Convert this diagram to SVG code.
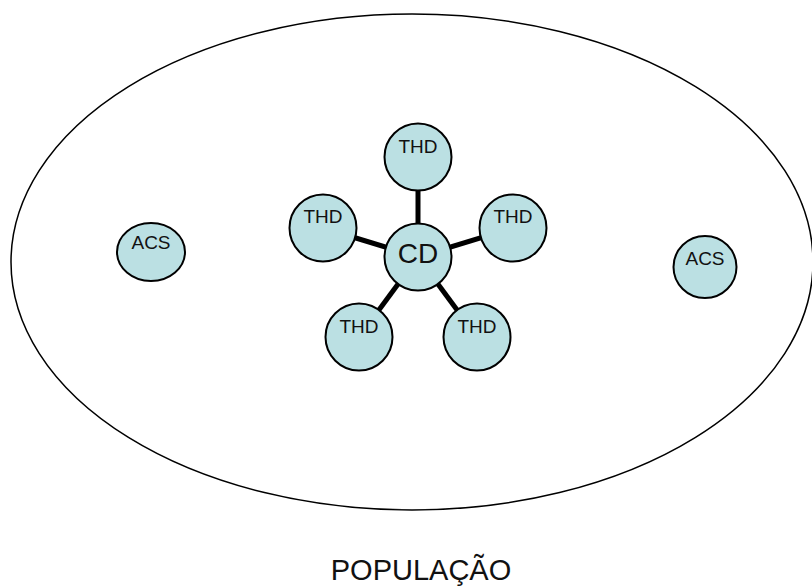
<svg xmlns="http://www.w3.org/2000/svg" width="812" height="586" viewBox="0 0 812 586">
<style>
.node{fill:#bbe0e3;stroke:#000;stroke-width:2}
.lbl{font-family:"Liberation Sans",Arial,sans-serif;font-size:19px;fill:#111;text-anchor:middle;dominant-baseline:central}
.edge{stroke:#000;stroke-width:5;fill:none}
</style>
<rect width="812" height="586" fill="#fff"/>
<g id="population">
<ellipse cx="412" cy="262" rx="401" ry="248" fill="none" stroke="#000" stroke-width="1.5"/>
<text x="421" y="580" font-family="'Liberation Sans',Arial,sans-serif" font-size="29" fill="#111" text-anchor="middle">POPULAÇÃO</text>
</g>
<g id="connectors">
<line class="edge" x1="418" y1="257" x2="418" y2="157"/>
<line class="edge" x1="418" y1="257" x2="323" y2="228"/>
<line class="edge" x1="418" y1="257" x2="513" y2="228"/>
<line class="edge" x1="418" y1="257" x2="359" y2="337"/>
<line class="edge" x1="418" y1="257" x2="477" y2="337"/>
</g>
<g id="thd-top"><circle class="node" cx="418" cy="157" r="33.5"/><text class="lbl" x="418" y="146">THD</text></g>
<g id="thd-left"><circle class="node" cx="323" cy="228" r="33.5"/><text class="lbl" x="323" y="216">THD</text></g>
<g id="thd-right"><circle class="node" cx="513" cy="228" r="33.5"/><text class="lbl" x="513" y="216">THD</text></g>
<g id="thd-bottom-left"><circle class="node" cx="359" cy="337" r="33.5"/><text class="lbl" x="359" y="326">THD</text></g>
<g id="thd-bottom-right"><circle class="node" cx="477" cy="337" r="33.5"/><text class="lbl" x="477" y="326">THD</text></g>
<g id="cd"><circle class="node" cx="418" cy="257" r="33.5"/><text class="lbl" x="418" y="253" style="font-size:28px">CD</text></g>
<g id="acs-left"><ellipse class="node" cx="151" cy="252" rx="34" ry="29"/><text class="lbl" x="151" y="242">ACS</text></g>
<g id="acs-right"><ellipse class="node" cx="705" cy="267" rx="31.5" ry="31"/><text class="lbl" x="705" y="258">ACS</text></g>
</svg>
